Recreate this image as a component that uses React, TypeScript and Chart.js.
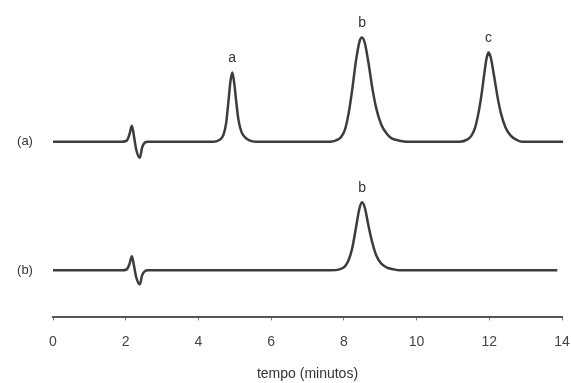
import React, { useEffect, useRef } from "react";
import { Chart, registerables } from "chart.js";

Chart.register(...registerables);

// Trace (a): retention time (min) and detector signal relative to baseline
const timesA = [
  0, 1.9, 2.03, 2.1, 2.17, 2.22, 2.29, 2.39, 2.45, 2.52, 2.62,
  4.42, 4.59, 4.69, 4.76, 4.82, 4.88, 4.93, 4.98, 5.04, 5.1, 5.18, 5.29, 5.42, 5.57,
  7.63, 7.83, 7.93, 8.03, 8.13, 8.23, 8.33, 8.43, 8.5, 8.58, 8.68, 8.79, 8.9, 9.03, 9.18, 9.33, 9.53, 9.73,
  11.19, 11.39, 11.51, 11.61, 11.71, 11.79, 11.87, 11.93, 11.98, 12.04, 12.13, 12.23, 12.33, 12.45, 12.59, 12.74, 12.89,
  14.03,
];
const signalA = [
  0, 0, 1, 7, 16, 7, -8, -16, -6, -1, 0,
  0, 2, 7, 18, 38, 60, 69, 60, 40, 22, 10, 4, 1, 0,
  0, 2, 5, 12, 28, 52, 80, 100, 104, 98, 78, 52, 32, 17, 8, 3, 1, 0,
  0, 2, 6, 14, 30, 48, 70, 84, 89, 84, 66, 44, 27, 14, 6, 2, 0,
  0,
];

// Trace (b)
const timesB = [
  0, 1.9, 2.03, 2.1, 2.17, 2.22, 2.29, 2.39, 2.45, 2.52, 2.62,
  7.63, 7.88, 8.03, 8.13, 8.23, 8.33, 8.43, 8.5, 8.58, 8.68, 8.78, 8.89, 9.02, 9.17, 9.37, 9.53,
  13.87,
];
const signalB = [
  0, 0, 1, 6, 14, 6, -7, -14, -5, -1, 0,
  0, 1, 4, 10, 22, 42, 62, 68, 62, 44, 28, 15, 7, 3, 1, 0,
  0,
];

// Vertical offsets of the two traces (stacked chromatograms)
const offsetA = 175.5;
const offsetB = 47;

// Peak annotations: label, trace, time, peak height
const peakLabels = ["a", "b", "c", "b"];
const peakTrace = ["A", "A", "A", "B"];
const peakTimes = [4.93, 8.5, 11.98, 8.5];
const peakHeights = [69, 104, 89, 68];

const traceLabels = ["(a)", "(b)"];
const xTicks = [0, 2, 4, 6, 8, 10, 12, 14];

const FONT = "'Liberation Sans', Arial, sans-serif";
const LINE = "#3c3c3c";

export default function App() {
  const ref = useRef<HTMLCanvasElement | null>(null);

  useEffect(() => {
    if (!ref.current) return;
    const dataA = timesA.map((t, i) => ({ x: t, y: offsetA + signalA[i] }));
    const dataB = timesB.map((t, i) => ({ x: t, y: offsetB + signalB[i] }));

    const labelPlugin = {
      id: "peakLabels",
      afterDatasetsDraw(chart: any) {
        const { ctx, scales, chartArea } = chart;
        const xs = scales.x;
        const ys = scales.y;
        ctx.save();
        ctx.fillStyle = "#333";
        ctx.font = `14px ${FONT}`;
        ctx.textAlign = "center";
        ctx.textBaseline = "middle";
        peakLabels.forEach((lab, i) => {
          const off = peakTrace[i] === "A" ? offsetA : offsetB;
          const x = xs.getPixelForValue(peakTimes[i]);
          const y = ys.getPixelForValue(off + peakHeights[i]) - 14;
          ctx.fillText(lab, x, y);
        });
        ctx.font = `13px ${FONT}`;
        traceLabels.forEach((lab, i) => {
          const off = i === 0 ? offsetA : offsetB;
          ctx.fillText(lab, chartArea.left - 28, ys.getPixelForValue(off));
        });
        ctx.restore();
      },
    };

    const chart = new Chart(ref.current, {
      type: "line",
      data: {
        datasets: [
          {
            data: dataA,
            borderColor: LINE,
            borderWidth: 2.5,
            pointRadius: 0,
            cubicInterpolationMode: "monotone",
            clip: false,
          } as any,
          {
            data: dataB,
            borderColor: LINE,
            borderWidth: 2.5,
            pointRadius: 0,
            cubicInterpolationMode: "monotone",
            clip: false,
          } as any,
        ],
      },
      options: {
        animation: false,
        responsive: true,
        maintainAspectRatio: false,
        layout: { padding: { left: 53, right: 0, top: 10, bottom: 0 } },
        plugins: {
          legend: { display: false },
          tooltip: { enabled: false },
        },
        scales: {
          x: {
            type: "linear",
            min: 0,
            max: 14,
            afterBuildTicks: (scale: any) => {
              scale.ticks = xTicks.map((v) => ({ value: v }));
            },
            afterFit: (scale: any) => {
              scale.paddingLeft = 0;
              scale.paddingRight = 9;
            },
            grid: {
              display: true,
              drawOnChartArea: false,
              drawTicks: true,
              tickLength: 3,
              color: "#777",
            },
            border: { display: true, color: "#555", width: 2 },
            ticks: {
              padding: 13,
              color: "#444",
              font: { family: FONT, size: 14 },
              maxRotation: 0,
            },
            title: {
              display: true,
              text: "tempo (minutos)",
              color: "#333",
              font: { family: FONT, size: 14 },
              padding: { top: 3, bottom: 0 },
            },
          },
          y: {
            display: false,
            min: 0,
            max: 307,
          },
        },
      },
      plugins: [labelPlugin],
    } as any);
    return () => chart.destroy();
  }, []);

  return (
    <div style={{ position: "fixed", left: 0, top: 0, width: 571, height: 383, background: "#fff" }}>
      <canvas ref={ref} />
    </div>
  );
}
